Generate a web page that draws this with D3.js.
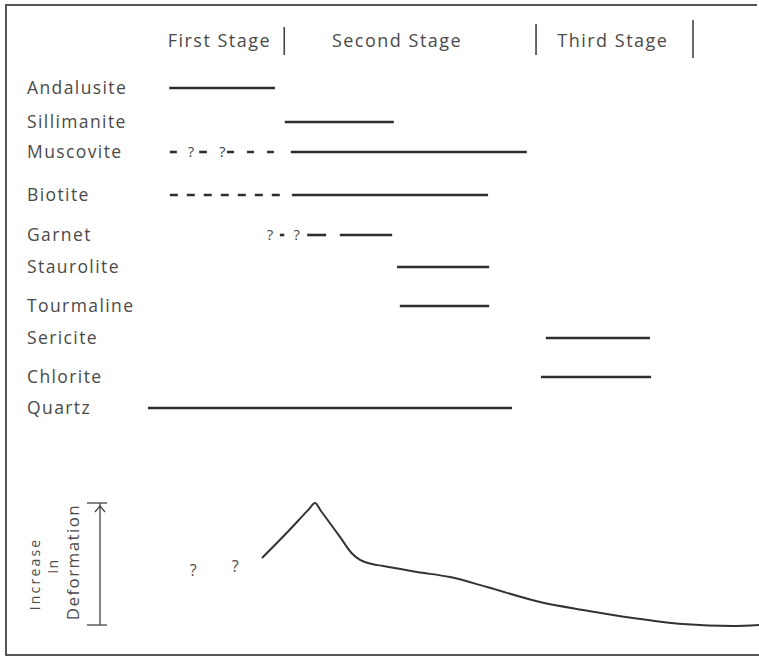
<!DOCTYPE html>
<html>

<head>
    <meta charset="utf-8">
    <title>Mineral stages and deformation</title>
    <script src="https://d3js.org/d3.v7.min.js"></script>
    <style>
        body { margin: 0; background: #fff; }
        text { font-family: "Open Sans", sans-serif; fill: #4a4a4a; }
    </style>
</head>

<body>
    <div id="chart"></div>
    <script>
        // relative time: 0 = start of quartz, 100 = end of third stage
        var stages = ["First Stage", "Second Stage", "Third Stage"];
        var stageCentres = [13.1, 45.7, 85.3];
        var stageBreaks = [25.0, 71.2, 100];

        var minerals = ["Andalusite", "Sillimanite", "Muscovite", "Biotite", "Garnet",
            "Staurolite", "Tourmaline", "Sericite", "Chlorite", "Quartz"];

        // [mineral, from, to, kind]
        var segments = [
            ["Andalusite", 3.9, 23.3, "solid"],
            ["Sillimanite", 25.1, 45.1, "solid"],
            ["Muscovite", 4.0, 5.3, "solid"],
            ["Muscovite", 9.4, 10.8, "solid"],
            ["Muscovite", 14.5, 23.1, "dashed"],
            ["Muscovite", 26.2, 69.5, "solid"],
            ["Biotite", 4.0, 24.2, "dashed"],
            ["Biotite", 26.4, 62.4, "solid"],
            ["Garnet", 24.2, 25.0, "solid"],
            ["Garnet", 29.2, 32.7, "solid"],
            ["Garnet", 35.2, 44.8, "solid"],
            ["Staurolite", 45.7, 62.6, "solid"],
            ["Tourmaline", 46.2, 62.6, "solid"],
            ["Sericite", 73.0, 92.1, "solid"],
            ["Chlorite", 72.1, 92.3, "solid"],
            ["Quartz", 0, 66.8, "solid"]
        ];

        // uncertain ("?") marks on the mineral rows
        var queries = [["Muscovite", 7.9], ["Muscovite", 13.6], ["Garnet", 22.4], ["Garnet", 27.3]];

        // deformation curve
        var deformTime = [20.92, 25.69, 29.54, 30.64, 31.74, 35.23, 37.43, 38.90, 41.10, 43.12,
            49.36, 55.41, 62.20, 71.93, 79.82, 88.99, 98.17, 107.34, 112.11];
        var deformLevel = [55.3, 76.8, 95.0, 100, 93.5, 72.4, 58.9, 53.7, 50.4, 48.8,
            43.9, 39.8, 31.7, 19.5, 13.0, 6.5, 1.6, 0, 0.8];
        var deformQueryTime = [8.3, 16.0];
        var deformQueryLevel = [45.5, 48.8];

        var width = 759, height = 657;

        var svg = d3.select("#chart")
            .append("svg")
            .attr("width", width)
            .attr("height", height);

        var x = d3.scaleLinear().domain([0, 100]).range([148, 693]);
        var y = d3.scaleOrdinal().domain(minerals)
            .range([88, 122, 152, 195, 235, 267, 306, 338, 377, 408]);
        var yd = d3.scaleLinear().domain([0, 100]).range([626, 503]);

        // frame
        svg.append("path")
            .attr("d", "M759,655 H6 V5 H757")
            .attr("fill", "none")
            .attr("stroke", "#555")
            .attr("stroke-width", 2);

        // stage headings
        svg.selectAll(".stage")
            .data(stages)
            .enter()
            .append("text")
            .attr("x", function (d, i) { return x(stageCentres[i]); })
            .attr("y", 47)
            .attr("text-anchor", "middle")
            .style("font-size", "18px")
            .style("letter-spacing", "1.5px")
            .text(function (d) { return d; });

        var breakTop = [27, 24, 20], breakBottom = [55, 55, 58];
        svg.selectAll(".brk")
            .data(stageBreaks)
            .enter()
            .append("line")
            .attr("x1", function (d) { return x(d); })
            .attr("x2", function (d) { return x(d); })
            .attr("y1", function (d, i) { return breakTop[i]; })
            .attr("y2", function (d, i) { return breakBottom[i]; })
            .attr("stroke", "#444")
            .attr("stroke-width", 1.6);

        // mineral names
        svg.selectAll(".name")
            .data(minerals)
            .enter()
            .append("text")
            .attr("x", 27)
            .attr("y", function (d) { return y(d); })
            .attr("dy", "0.35em")
            .style("font-size", "17.5px")
            .style("letter-spacing", "1.4px")
            .text(function (d) { return d; });

        // ranges
        svg.selectAll(".seg")
            .data(segments)
            .enter()
            .append("line")
            .attr("x1", function (d) { return x(d[1]); })
            .attr("x2", function (d) { return x(d[2]); })
            .attr("y1", function (d) { return y(d[0]); })
            .attr("y2", function (d) { return y(d[0]); })
            .attr("stroke", "#2e2e2e")
            .attr("stroke-width", 2.6)
            .attr("stroke-dasharray", function (d) {
                if (d[3] != "dashed") return null;
                return d[0] == "Biotite" ? "8,9" : "7,13";
            });

        svg.selectAll(".q")
            .data(queries)
            .enter()
            .append("text")
            .attr("x", function (d) { return x(d[1]); })
            .attr("y", function (d) { return y(d[0]); })
            .attr("dy", "0.35em")
            .attr("text-anchor", "middle")
            .style("font-size", "15px")
            .text("?");

        // deformation axis
        var ax = 100;
        svg.append("line").attr("x1", ax).attr("x2", ax).attr("y1", yd(100)).attr("y2", yd(0.8))
            .attr("stroke", "#444").attr("stroke-width", 1.3);
        [100, 0.8].forEach(function (v) {
            svg.append("line").attr("x1", ax - 13).attr("x2", ax + 7).attr("y1", yd(v)).attr("y2", yd(v))
                .attr("stroke", "#444").attr("stroke-width", 1.3);
        });
        svg.append("path")
            .attr("d", "M" + (ax - 5) + "," + (yd(100) + 9) + " L" + ax + "," + (yd(100) + 3) + " L" + (ax + 5) + "," + (yd(100) + 9))
            .attr("fill", "none").attr("stroke", "#444").attr("stroke-width", 1.3);

        var axisWords = ["Increase", "in", "Deformation"];
        var axisX = [35, 53, 73];
        var axisY = [574, 566, 562];
        var axisSize = [14, 14, 17];
        var axisSpacing = [2.2, 1.5, 1.4];
        svg.selectAll(".ax")
            .data(axisWords)
            .enter()
            .append("text")
            .attr("transform", function (d, i) { return "translate(" + axisX[i] + "," + axisY[i] + ") rotate(-90)"; })
            .attr("text-anchor", "middle")
            .attr("dy", "0.35em")
            .style("font-size", function (d, i) { return axisSize[i] + "px"; })
            .style("letter-spacing", function (d, i) { return axisSpacing[i] + "px"; })
            .text(function (d) { return d; });

        // deformation curve
        var pts = deformTime.map(function (t, i) { return [x(t), yd(deformLevel[i])]; });
        svg.append("path")
            .attr("d", d3.line().curve(d3.curveMonotoneX)(pts))
            .attr("fill", "none")
            .attr("stroke", "#333")
            .attr("stroke-width", 2);

        svg.selectAll(".dq")
            .data(deformQueryTime)
            .enter()
            .append("text")
            .attr("x", function (d) { return x(d); })
            .attr("y", function (d, i) { return yd(deformQueryLevel[i]); })
            .attr("dy", "0.35em")
            .attr("text-anchor", "middle")
            .style("font-size", "16px")
            .text("?");
    </script>
</body>

</html>
